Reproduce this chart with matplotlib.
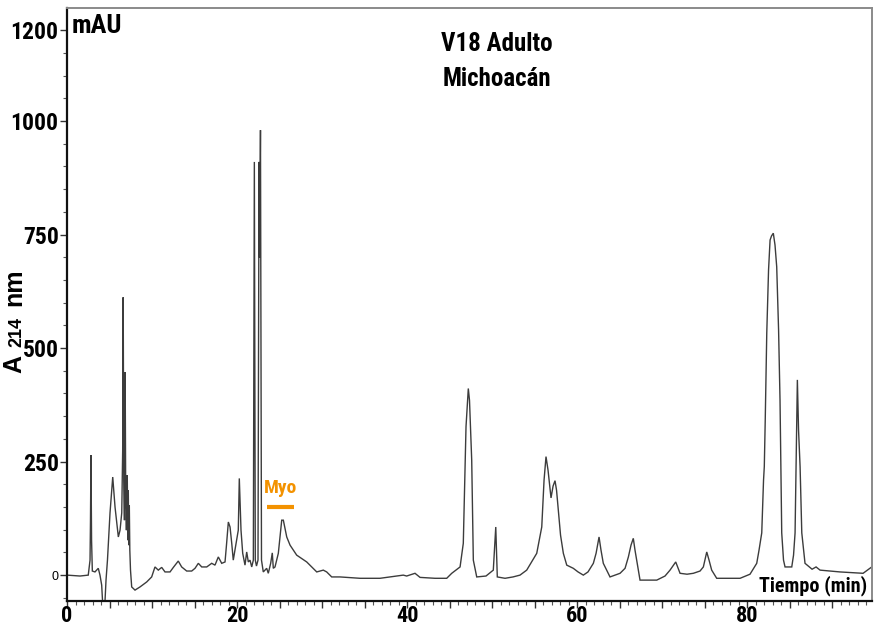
import matplotlib
matplotlib.use("Agg")
import matplotlib.pyplot as plt
from matplotlib import font_manager as fm
from matplotlib.font_manager import FontProperties
from matplotlib.ticker import FixedLocator, MultipleLocator, FuncFormatter

# ---- data ----
time_min = [0.0, 1.53, 2.5, 2.71, 2.76, 2.82, 2.89, 2.98, 3.29, 3.68, 3.88, 4.08, 4.27, 4.41,
            4.59, 4.76, 5.06, 5.38, 5.65, 6.04, 6.24, 6.44, 6.55, 6.61, 6.68, 6.76, 6.84, 6.91,
            6.99, 7.09, 7.15, 7.21, 7.27, 7.33, 7.39, 7.47, 7.61, 8.0, 8.59, 9.38, 9.96, 10.35,
            10.74, 11.14, 11.53, 12.12, 12.51, 13.09, 13.49, 14.08, 14.67, 15.06, 15.45, 15.85,
            16.44, 17.02, 17.41, 17.8, 18.2, 18.59, 18.76, 18.98, 19.18, 19.38, 19.56, 19.76,
            19.96, 20.15, 20.27, 20.47, 20.67, 20.94, 21.14, 21.33, 21.53, 21.73, 21.92, 22.04,
            22.15, 22.29, 22.47, 22.59, 22.66, 22.76, 22.88, 23.09, 23.49, 23.68, 23.96, 24.15,
            24.27, 24.47, 24.86, 25.26, 25.45, 25.85, 26.24, 27.02, 28.2, 29.38, 30.15, 30.55,
            31.14, 32.12, 34.47, 36.82, 39.56, 39.96, 40.94, 41.53, 43.29, 44.67, 45.26, 45.76,
            46.24, 46.62, 46.94, 47.21, 47.35, 47.61, 47.8, 48.2, 49.29, 50.15, 50.44, 50.62,
            51.53, 52.47, 53.29, 54.08, 55.26, 55.85, 56.12, 56.35, 56.59, 56.94, 57.18, 57.41,
            57.59, 57.8, 58.06, 58.39, 58.79, 59.56, 60.12, 60.74, 61.29, 61.92, 62.24, 62.59,
            62.82, 63.09, 63.88, 65.06, 65.65, 66.04, 66.35, 66.62, 66.82, 67.02, 67.41, 69.38,
            70.35, 70.94, 71.61, 72.12, 72.94, 73.68, 74.47, 74.86, 75.26, 75.53, 75.84, 76.43,
            78.0, 79.18, 80.35, 81.14, 81.41, 81.73, 81.94, 82.03, 82.14, 82.32, 82.53, 82.71,
            82.88, 83.09, 83.29, 83.49, 83.71, 83.88, 84.08, 84.29, 84.47, 85.26, 85.47, 85.65,
            85.8, 85.92, 86.06, 86.24, 86.44, 86.82, 87.65, 88.12, 88.59, 90.94, 93.65, 94.67]
absorbance = [0, -2, 0, 33, 115, 264, 77, 9, 7, 15, 0, -22, -88, -81,
              -11, 33, 137, 216, 150, 84, 99, 137, 275, 612, 209, 121, 447, 165,
              99, 220, 77, 187, 66, 154, 55, 11, -26, -33, -26, -15, -4, 18,
              11, 17, 7, 7, 17, 31, 18, 9, 9, 15, 26, 18,
              18, 26, 22, 40, 26, 29, 66, 117, 106, 70, 33, 55,
              77, 99, 213, 99, 48, 22, 51, 29, 33, 18, 33, 910,
              33, 20, 33, 910, 700, 980, 33, 7, 15, 4, 26, 49,
              15, 18, 48, 121, 121, 84, 66, 44, 29, 7, 11, 7,
              -4, -4, -7, -7, 0, -2, 4, -5, -7, -7, 4, 11,
              18, 70, 327, 411, 385, 253, 33, -4, -2, 11, 106, -4,
              -7, -4, 0, 11, 48, 106, 209, 261, 231, 170, 196, 208,
              187, 143, 88, 48, 22, 15, 7, 0, 7, 26, 48, 84,
              55, 26, -4, 4, 15, 40, 66, 81, 55, 33, -11, -11,
              -2, 11, 29, 4, 2, 4, 9, 18, 51, 33, 11, -7,
              -7, -7, 2, 26, 55, 93, 209, 239, 341, 533, 672, 738,
              747, 753, 727, 679, 540, 385, 93, 33, 18, 18, 44, 93,
              275, 430, 319, 239, 93, 26, 13, 18, 11, 7, 4, 18]

x_major_labels = [0, 20, 40, 60, 80]
y_ticks = [0, 250, 500, 750, 1000, 1200]
title_lines = ["V18 Adulto", "Michoacán"]
marker_label = "Myo"
marker_span = [23.5, 26.7]
marker_level = 150

ORANGE = "#f39200"
BOLD = ["Liberation Sans", "DejaVu Sans"]


def find_narrow_bold():
    pref = ["Liberation Sans Narrow", "Arial Narrow", "Roboto Condensed",
            "DejaVu Sans Condensed", "Open Sans Condensed", "Noto Sans Condensed",
            "Noto Sans", "Open Sans", "Roboto", "DejaVu Sans"]
    cands = []
    for f in fm.fontManager.ttflist:
        nm = f.name
        st = str(f.stretch)
        is_narrow = ("Narrow" in nm or "Condensed" in nm or
                     st in ("condensed", "semi-condensed", "extra-condensed"))
        if not is_narrow:
            continue
        w = f.weight if isinstance(f.weight, int) else {"bold": 700, "normal": 400}.get(f.weight, 400)
        if w < 600 or "italic" in str(f.style) or "Italic" in f.fname:
            continue
        rank = next((i for i, p in enumerate(pref) if p in nm), 99)
        cands.append((rank, abs(w - 700), f.fname))
    if cands:
        cands.sort()
        return cands[0][2]
    return None


narrow_path = find_narrow_bold()


def nfp(size):
    if narrow_path:
        return FontProperties(fname=narrow_path, size=size)
    return FontProperties(family=BOLD, weight="bold", size=size * 0.8)


fig = plt.figure(figsize=(8.76, 6.26), dpi=100)
W, H = 876, 626
ax = fig.add_axes([67 / W, 1 - 601 / H, (872 - 67) / W, (601 - 8) / H])

ax.plot(time_min, absorbance, color="#3c3c3c", lw=1.0, solid_joinstyle="miter")

ax.set_xlim(0, 94.7)
ax.set_ylim(-57, 1249)

# ticks
ax.xaxis.set_major_locator(MultipleLocator(5))
ax.xaxis.set_minor_locator(MultipleLocator(1))
ax.xaxis.set_major_formatter(FuncFormatter(
    lambda v, p: f"{int(round(v))}" if int(round(v)) in x_major_labels else ""))
ax.yaxis.set_major_locator(FixedLocator(y_ticks))
ax.yaxis.set_minor_locator(MultipleLocator(50))
ax.yaxis.set_major_formatter(FuncFormatter(lambda v, p: f"{int(round(v))}"))

ax.tick_params(axis="both", which="major", direction="out", length=5, width=1.0,
               color="#333333", pad=1)
ax.tick_params(axis="x", which="major", pad=-2)
ax.tick_params(axis="both", which="minor", direction="out", length=3, width=0.8,
               color="#555555")
ax.tick_params(top=False, right=False)
for lab in ax.get_xticklabels():
    lab.set_fontproperties(nfp(16))
for lab in ax.get_yticklabels():
    lab.set_fontproperties(nfp(17))
# small zero label on y
ytk = ax.yaxis.get_major_ticks()[0]
ytk.label1.set_fontproperties(FontProperties(family=BOLD, weight="normal", size=9))

for s in ["left", "bottom"]:
    ax.spines[s].set_color("#111111")
    ax.spines[s].set_linewidth(1.6)
for s in ["top", "right"]:
    ax.spines[s].set_color("#8a8a8a")
    ax.spines[s].set_linewidth(1.4)

# texts
fig.text(72 / W, 1 - 33 / H, "mAU", fontproperties=nfp(19), ha="left", va="baseline")
fig.text(497 / W, 1 - 51 / H, title_lines[0], fontproperties=nfp(18),
         ha="center", va="baseline")
fig.text(497 / W, 1 - 86 / H, title_lines[1], fontproperties=nfp(18),
         ha="center", va="baseline")
fig.text(867 / W, 1 - 591 / H, "Tiempo (min)", fontproperties=nfp(14.5),
         ha="right", va="baseline")

# y label "A214 nm" built from pieces, rotated
fig.text(21 / W, 1 - 373 / H, "A", family=BOLD, weight="bold", fontsize=18,
         rotation=90, rotation_mode="anchor", ha="left", va="baseline")
fig.text(21 / W, 1 - 347 / H, "214", family=BOLD, weight="bold", fontsize=13,
         rotation=90, rotation_mode="anchor", ha="left", va="baseline")
fig.text(21 / W, 1 - 306 / H, "nm", family=BOLD, weight="bold", fontsize=18,
         rotation=90, rotation_mode="anchor", ha="left", va="baseline")

# Myo marker
ax.plot(marker_span, [marker_level, marker_level], color=ORANGE, lw=3, solid_capstyle="butt")
ax.text(sum(marker_span) / 2, marker_level + 22, marker_label, color=ORANGE,
        fontproperties=nfp(14), ha="center", va="bottom")

fig.savefig("out.png", dpi=100)
